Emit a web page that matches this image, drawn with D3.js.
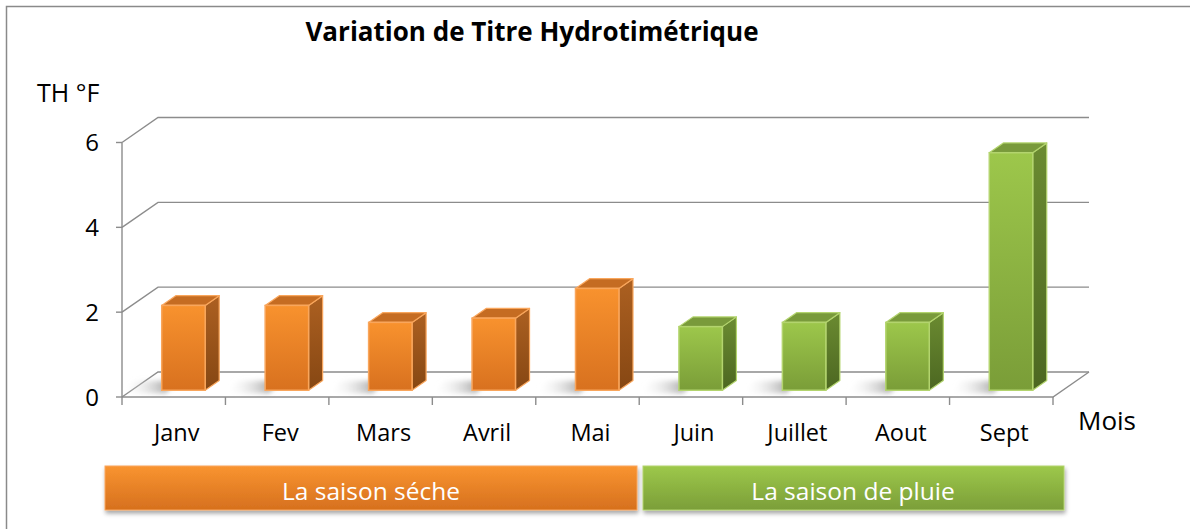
<!DOCTYPE html>
<html>
<head>
<meta charset="utf-8">
<script src="https://cdn.jsdelivr.net/npm/d3@7"></script>
<style>
  body { margin: 0; background: #fff; }
  text { font-family: "Open Sans", Lato, sans-serif; }
</style>
</head>
<body>
<div id="chart"></div>
<script>
// data
const months = ["Janv", "Fev", "Mars", "Avril", "Mai", "Juin", "Juillet", "Aout", "Sept"];
const thValues = [2.0, 2.0, 1.6, 1.7, 2.4, 1.5, 1.6, 1.6, 5.6];
const seasons = ["sec", "sec", "sec", "sec", "sec", "pluie", "pluie", "pluie", "pluie"];
const yTicks = [0, 2, 4, 6];
const seasonLabels = [
  { key: "sec", label: "La saison séche" },
  { key: "pluie", label: "La saison de pluie" }
];

const width = 1190, height = 529;
// 3d oblique offset for the full depth of the plot
const depthX = 36, depthY = -25;
const barFront = 0.27, barDepth = 0.39;

const svg = d3.select("#chart").append("svg")
  .attr("width", width).attr("height", height);

const x = d3.scaleBand().domain(months).range([122, 1053]);
const y = d3.scaleLinear().domain([0, 6]).range([397, 142.5]);

const defs = svg.append("defs");
function vGrad(id, top, bottom) {
  const g = defs.append("linearGradient").attr("id", id)
    .attr("x1", 0).attr("y1", 0).attr("x2", 0).attr("y2", 1);
  g.append("stop").attr("offset", "0%").attr("stop-color", top);
  g.append("stop").attr("offset", "100%").attr("stop-color", bottom);
}
vGrad("frontSec", "#F8922E", "#D8711F");
vGrad("sideSec", "#AC6021", "#864713");
vGrad("frontPluie", "#9DC74B", "#7A9D38");
vGrad("sidePluie", "#6B8B31", "#4C6721");
vGrad("boxSec", "#F99430", "#D6701E");
vGrad("boxPluie", "#9DC84A", "#7B9E39");

// shadow on the floor: dark near the bar, fading to the left
const sh = defs.append("linearGradient").attr("id", "shadow")
  .attr("x1", 0).attr("y1", 0).attr("x2", 1).attr("y2", 0);
sh.append("stop").attr("offset", "0%").attr("stop-color", "#fff").attr("stop-opacity", 0);
sh.append("stop").attr("offset", "100%").attr("stop-color", "#7a7a7a").attr("stop-opacity", 0.9);

const colors = {
  sec: { front: "url(#frontSec)", side: "url(#sideSec)", top: "#C56C22", stroke: "#F9A65C" },
  pluie: { front: "url(#frontPluie)", side: "url(#sidePluie)", top: "#799A3B", stroke: "#B3D46E" }
};

defs.append("filter").attr("id", "blur")
  .attr("x", "-50%").attr("y", "-50%").attr("width", "200%").attr("height", "200%")
  .append("feGaussianBlur").attr("stdDeviation", 2.5);

const ds = defs.append("filter").attr("id", "drop")
  .attr("x", "-10%").attr("y", "-20%").attr("width", "120%").attr("height", "160%");
ds.append("feDropShadow").attr("dx", 1).attr("dy", 3).attr("stdDeviation", 2)
  .attr("flood-color", "#000").attr("flood-opacity", 0.35);

// outer frame
svg.append("path")
  .attr("d", `M6.5,${height + 5}V6.5H${width + 5}`)
  .attr("fill", "none").attr("stroke", "#8a8a8a").attr("stroke-width", 1.5);

const grid = svg.append("g").attr("stroke", "#8c8c8c").attr("stroke-width", 1.4).attr("fill", "none");
const x0 = x.range()[0], x1 = x.range()[1];

// back gridlines + diagonals on the left wall
yTicks.forEach(v => {
  grid.append("path")
    .attr("d", `M${x0},${y(v)}L${x0 + depthX},${y(v) + depthY}H${x1 + depthX}`);
  grid.append("line")
    .attr("x1", x0 - 6).attr("x2", x0).attr("y1", y(v)).attr("y2", y(v));
});
// front axis, floor edges
grid.append("line").attr("x1", x0).attr("x2", x0).attr("y1", y(6)).attr("y2", y(0));
grid.append("path")
  .attr("d", `M${x0},${y(0)}H${x1}L${x1 + depthX},${y(0) + depthY}`);
// category ticks
months.concat([null]).forEach((m, i) => {
  const xx = x0 + i * x.bandwidth();
  grid.append("line").attr("x1", xx).attr("x2", xx).attr("y1", y(0)).attr("y2", y(0) + 8);
});

// y tick labels
svg.append("g").selectAll("text").data(yTicks).join("text")
  .attr("x", 99).attr("y", d => y(d)).attr("dy", "0.36em")
  .attr("text-anchor", "end").attr("font-size", 24).text(d => d);

// bars
const bw = x.bandwidth() * 0.42;
const fx = depthX * barFront, fy = depthY * barFront;
const sx = depthX * barDepth, sy = depthY * barDepth;

const barData = months.map((m, i) => ({ month: m, value: thValues[i], season: seasons[i] }));

// floor shadows
svg.append("g").selectAll("path").data(barData).join("path")
  .attr("d", d => {
    const left = x(d.month) + (x.bandwidth() - bw) / 2 + fx;
    const b = y(0) + fy;
    return `M${left + 4},${b + 3}L${left - 40},${b + 3}L${left - 28},${b - 9}L${left + sx},${b + sy}Z`;
  })
  .attr("fill", "url(#shadow)").attr("filter", "url(#blur)");

const bars = svg.append("g").selectAll("g").data(barData).join("g");
bars.each(function (d) {
  const g = d3.select(this);
  const c = colors[d.season];
  const left = x(d.month) + (x.bandwidth() - bw) / 2 + fx;
  const right = left + bw;
  const top = y(d.value) + fy;
  const bottom = y(0) + fy;
  g.append("path")
    .attr("d", `M${right},${top}L${right + sx},${top + sy}V${bottom + sy}L${right},${bottom}Z`)
    .attr("fill", c.side).attr("stroke", c.stroke).attr("stroke-width", 1.2).attr("stroke-linejoin", "round");
  g.append("path")
    .attr("d", `M${left},${top}L${left + sx},${top + sy}H${right + sx}L${right},${top}Z`)
    .attr("fill", c.top).attr("stroke", c.stroke).attr("stroke-width", 1.2).attr("stroke-linejoin", "round");
  g.append("rect")
    .attr("x", left).attr("y", top).attr("width", bw).attr("height", bottom - top)
    .attr("fill", c.front).attr("stroke", c.stroke).attr("stroke-width", 1.5);
});

// category labels
svg.append("g").selectAll("text").data(months).join("text")
  .attr("x", d => x(d) + x.bandwidth() / 2 + 3).attr("y", 433).attr("dy", "0.35em")
  .attr("text-anchor", "middle").attr("font-size", 23.5).text(d => d);

// titles
svg.append("text").attr("x", 532).attr("y", 32).attr("dy", "0.35em")
  .attr("text-anchor", "middle").attr("font-size", 26).attr("font-weight", "bold")
  .text("Variation de Titre Hydrotimétrique");
svg.append("text").attr("x", 37).attr("y", 93).attr("dy", "0.35em")
  .attr("font-size", 25).text("TH °F");
svg.append("text").attr("x", 1078).attr("y", 421).attr("dy", "0.35em")
  .attr("font-size", 26).text("Mois");

// season boxes
const boxes = svg.append("g").selectAll("g").data(seasonLabels).join("g");
boxes.append("rect")
  .attr("x", d => d.key === "sec" ? 105 : 643)
  .attr("width", d => d.key === "sec" ? 532 : 421)
  .attr("y", 466).attr("height", 44)
  .attr("fill", d => d.key === "sec" ? "url(#boxSec)" : "url(#boxPluie)")
  .attr("stroke", d => d.key === "sec" ? "#F9A65C" : "#B3D46E").attr("stroke-width", 1)
  .attr("filter", "url(#drop)");
boxes.append("text")
  .attr("x", d => d.key === "sec" ? 371 : 853).attr("y", 491).attr("dy", "0.35em")
  .attr("text-anchor", "middle").attr("font-size", 24.5).attr("fill", "#fff")
  .text(d => d.label);
</script>
</body>
</html>
